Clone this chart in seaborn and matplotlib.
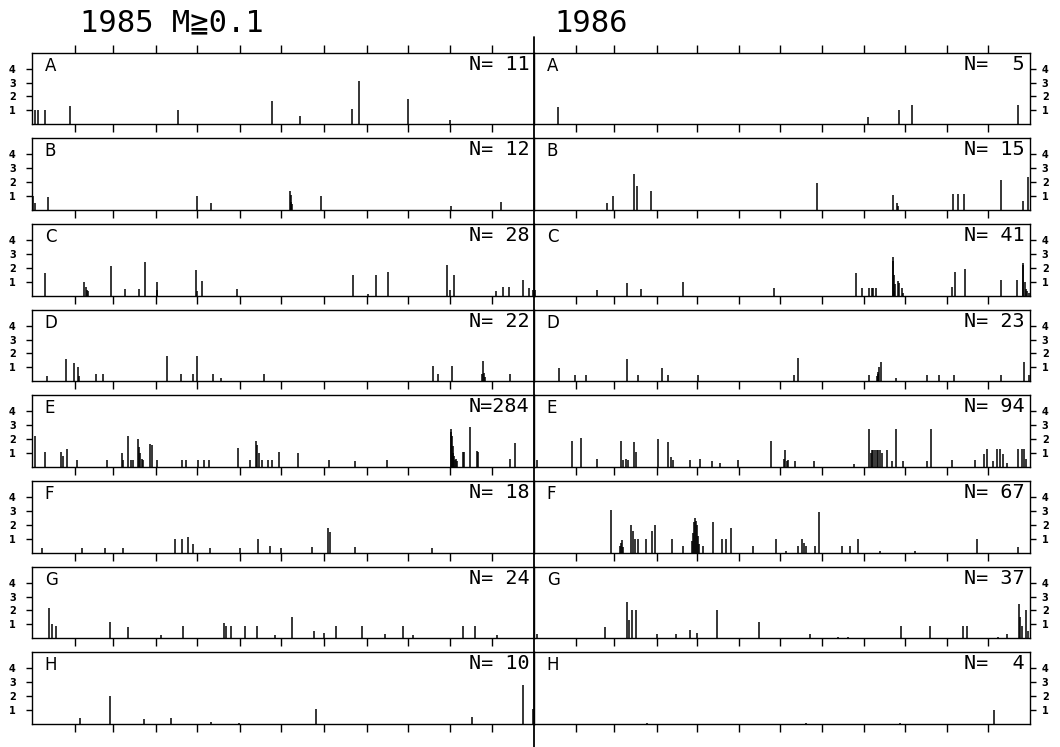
import matplotlib
matplotlib.use("Agg")
import matplotlib.pyplot as plt
import matplotlib.transforms as mtransforms
from matplotlib.lines import Line2D
import seaborn as sns

# 区域名、每年事件数
rows = ["A", "B", "C", "D", "E", "F", "G", "H"]
n_1985 = [11, 12, 28, 22, 284, 18, 24, 10]
n_1986 = [5, 15, 41, 23, 94, 67, 37, 4]
# 每月1日（年内第几天）
month_starts = [31, 59, 90, 120, 151, 181, 212, 243, 273, 304, 334]

# 1985 各区 (年内日, 震级)
day_85_A = [2, 4.4, 9.2, 27.4, 106, 174, 194.7, 232.8, 237.6, 273, 303.8]
mag_85_A = [1.0, 1.0, 1.0, 1.3, 1.05, 1.7, 0.6, 1.1, 3.1, 1.8, 0.3]
day_85_B = [0.6, 1.6, 11.7, 119.5, 129.7, 187.2, 187.8, 188.4, 189.0, 210, 304.3, 340.9]
mag_85_B = [1.0, 0.5, 0.9, 1.0, 0.5, 1.35, 1.1, 0.6, 0.4, 1.0, 0.25, 0.6]
day_85_C = [9.2, 37.8, 38.8, 39.5, 40.3, 57, 67.4, 77.6, 82, 90.5, 91, 118.8, 119.5, 123.2,
            149.1, 233.5, 243.9, 249.7, 258.9, 301.8, 303.8, 306.9, 337, 342.6, 346.7, 357.1,
            360.8, 364.4]
mag_85_C = [1.6, 1.0, 0.6, 0.4, 0.3, 2.1, 0.5, 0.5, 2.45, 1.0, 0.4, 1.85, 0.3, 1.05,
            0.5, 1.45, 0.15, 1.45, 1.7, 2.2, 0.4, 1.45, 0.3, 0.6, 0.6, 1.1,
            0.55, 0.4]
day_85_D = [10.9, 24.3, 30.6, 33.5, 34.2, 46.3, 51.7, 97.7, 108.1, 117.1, 120, 131.2, 137.2,
            168.5, 291.2, 295.3, 305, 326.8, 327.5, 328.3, 329, 347.4]
mag_85_D = [0.4, 1.6, 1.3, 1.0, 0.4, 0.5, 0.5, 1.8, 0.5, 0.5, 1.85, 0.5, 0.2,
            0.5, 1.1, 0.55, 1.1, 0.5, 1.45, 0.6, 0.3, 0.55]
day_85_E = [2.0, 9.2, 20.9, 22.6, 25, 32.7, 54.5, 65, 66.2, 69.8, 71.8, 73.5, 77.1, 77.8,
            78.5, 79.6, 80.7, 85.6, 86.8, 90.5, 108.6, 111.8, 120.3, 125.1, 128.7, 149.4,
            158.3, 162.7, 163.6, 164.6, 166.8, 171.6, 174.1, 179.6, 193, 216, 234.7, 258.2,
            304.3, 304.7, 305.2, 305.7, 306.2, 306.7, 307.4, 308.1, 309.1, 313, 314, 318.3,
            323.2, 323.9, 347.4, 351]
mag_85_E = [2.2, 1.05, 1.05, 0.77, 1.3, 0.5, 0.5, 1.0, 0.5, 2.25, 0.5, 0.5, 2.0, 1.4,
            1.0, 0.6, 0.5, 1.65, 1.6, 0.5, 0.5, 0.5, 0.5, 0.5, 0.5, 1.37,
            0.5, 1.9, 1.6, 1.0, 0.5, 0.5, 0.5, 1.08, 1.0, 0.5, 0.45, 0.5,
            2.7, 2.5, 2.2, 1.5, 1.0, 0.8, 0.5, 0.6, 0.4, 1.1, 1.1, 2.85,
            1.17, 1.1, 0.6, 1.73]
day_85_F = [7.1, 36.2, 52.9, 66, 103.8, 108.9, 113.2, 116.9, 129.2, 151.1, 164.1, 172.9,
            180.9, 203.4, 215.1, 216.5, 234.7, 290.7]
mag_85_F = [0.3, 0.3, 0.3, 0.3, 1.0, 1.0, 1.1, 0.6, 0.3, 0.3, 1.0, 0.5,
            0.3, 0.4, 1.8, 1.5, 0.4, 0.3]
day_85_G = [12.4, 14.1, 17.2, 56.5, 69.8, 93.6, 109.4, 139.4, 140.7, 144.3, 154.7, 163.2,
            176.5, 188.7, 204.9, 212.1, 220.9, 239.8, 256.5, 269.4, 276.9, 313.5, 322, 338]
mag_85_G = [2.2, 1.0, 0.9, 1.2, 0.8, 0.25, 0.9, 1.1, 0.9, 0.9, 0.9, 0.9,
            0.2, 1.5, 0.5, 0.4, 0.9, 0.9, 0.3, 0.9, 0.2, 0.9, 0.9, 0.2]
day_85_H = [34.7, 56.5, 81.2, 100.7, 129.7, 150.3, 206.3, 319.6, 356.7, 364.3]
mag_85_H = [0.45, 2.0, 0.35, 0.45, 0.15, 0.1, 1.1, 0.5, 2.8, 1.05]

# 1986 各区
day_86_A = [17.7, 245.5, 268.5, 278.4, 356.4]
mag_86_A = [1.27, 0.55, 1.03, 1.37, 1.4]
day_86_B = [53.8, 57.7, 73.4, 75.9, 85.7, 208.4, 264.4, 266.8, 267.6, 308.6, 312.3, 316.4,
            343.4, 360.1, 363.3]
mag_86_B = [0.5, 1.03, 2.6, 1.7, 1.37, 1.97, 1.08, 0.5, 0.3, 1.13, 1.13, 1.13,
            2.16, 0.65, 2.35]
day_86_C = [0.5, 45.9, 68.5, 78.3, 109.7, 176.7, 236.6, 241, 246.5, 248.4, 249.7, 251.4,
            263.9, 264.4, 264.9, 265.1, 265.6, 267.6, 268.5, 271, 271.7, 307.3, 309.8, 317.1,
            343.4, 355.7, 359.6, 360.1, 361.1, 362.1, 363, 364]
mag_86_C = [0.4, 0.43, 0.94, 0.48, 1.0, 0.53, 1.65, 0.53, 0.53, 0.53, 0.53, 0.53,
            2.8, 2.5, 1.5, 0.3, 0.8, 1.08, 0.9, 0.55, 0.2, 0.6, 1.68, 1.92,
            1.13, 1.13, 2.33, 2.2, 1.0, 0.5, 0.3, 0.2]
day_86_D = [18.4, 30, 37.8, 68, 76.6, 94.3, 98.2, 120.3, 191.5, 193.9, 246.7, 252.1, 252.8,
            253.3, 253.8, 255.1, 266.1, 288.9, 298.2, 309.3, 343.4, 360.8, 364.5]
mag_86_D = [0.96, 0.43, 0.43, 1.58, 0.43, 0.98, 0.43, 0.43, 0.48, 1.68, 0.43, 0.4, 0.7,
            0.5, 1.0, 1.4, 0.2, 0.43, 0.43, 0.43, 0.43, 1.4, 0.43]
day_86_E = [2.2, 28, 34.2, 46.4, 63.6, 65.5, 67.3, 69.2, 73.4, 74.9, 90.9, 98.7, 100.7,
            102.4, 114.7, 122.1, 130.9, 136.8, 150.1, 174.4, 183.9, 184.6, 185.8, 187, 192,
            206.2, 235.4, 246.7, 247.7, 248.4, 249.6, 250.9, 252.1, 253.3, 254.6, 255.8,
            259.5, 263.2, 266.1, 271.7, 289, 292.1, 307.4, 324.5, 331.2, 333.1, 338, 341,
            342.9, 344.9, 347.9, 356.4, 358.9, 360.6, 361.9]
mag_86_E = [0.5, 1.9, 2.1, 0.6, 1.9, 0.5, 0.6, 0.5, 1.8, 1.1, 2.0, 1.8, 0.7,
            0.5, 0.5, 0.6, 0.4, 0.3, 0.5, 1.9, 0.6, 1.2, 0.4, 0.5, 0.4,
            0.43, 0.2, 2.7, 1.0, 1.25, 1.25, 1.25, 1.25, 1.25, 1.25, 1.0,
            1.25, 0.4, 2.7, 0.43, 0.43, 2.7, 0.48, 0.48, 0.96, 1.32, 0.43, 1.32,
            1.32, 0.96, 0.25, 1.32, 1.32, 1.32, 0.6]
day_86_F = [56.5, 63.1, 63.8, 64.6, 65.6, 71, 72.5, 74.2, 76.6, 82.3, 86.4, 88.9, 101.2,
            109.7, 115.9, 116.6, 117.4, 118.1, 118.9, 119.6, 120.3, 121.1, 124, 131.8, 138,
            141, 144.6, 161.3, 178, 185.3, 194.4, 197.4, 198.6, 199.8, 206.7, 209.9, 226.4,
            232.5, 238.6, 254.6, 280.3, 326, 356.2]
mag_86_F = [3.07, 0.5, 0.7, 0.9, 0.4, 2.0, 1.55, 0.95, 0.95, 0.95, 1.55, 1.95, 0.95,
            0.5, 0.8, 1.4, 2.2, 2.5, 2.3, 2.0, 1.2, 0.6, 0.5, 2.2, 1.0,
            1.0, 1.8, 0.5, 1.0, 0.15, 0.5, 1.0, 0.7, 0.5, 0.5, 2.95, 0.5,
            0.5, 1.0, 0.15, 0.1, 1.0, 0.4]
day_86_G = [1.8, 52.1, 68.3, 69.8, 72, 74.9, 90.4, 104.4, 114.7, 119.9, 134.5, 165.4, 203,
            223.6, 231, 269.8, 291.4, 315.9, 318.4, 341.7, 347.9, 356.9, 358, 359.4, 362.1,
            363.5]
mag_86_G = [0.3, 0.8, 2.6, 1.3, 2.0, 2.0, 0.3, 0.3, 0.6, 0.4, 2.0, 1.2, 0.3,
            0.1, 0.1, 0.9, 0.9, 0.9, 0.9, 0.1, 0.3, 2.5, 1.5, 0.9, 2.0,
            0.5]
day_86_H = [82.8, 200, 269.3, 338.5]
mag_86_H = [0.1, 0.1, 0.1, 1.0]

data_1985 = {"A": (day_85_A, mag_85_A), "B": (day_85_B, mag_85_B), "C": (day_85_C, mag_85_C),
             "D": (day_85_D, mag_85_D), "E": (day_85_E, mag_85_E), "F": (day_85_F, mag_85_F),
             "G": (day_85_G, mag_85_G), "H": (day_85_H, mag_85_H)}
data_1986 = {"A": (day_86_A, mag_86_A), "B": (day_86_B, mag_86_B), "C": (day_86_C, mag_86_C),
             "D": (day_86_D, mag_86_D), "E": (day_86_E, mag_86_E), "F": (day_86_F, mag_86_F),
             "G": (day_86_G, mag_86_G), "H": (day_86_H, mag_86_H)}

sns.set_theme(style="ticks", rc={"axes.edgecolor": "black", "axes.linewidth": 1.0,
                                 "xtick.color": "black", "ytick.color": "black",
                                 "text.color": "black", "axes.labelcolor": "black"})

W, H = 1060, 747
fig = plt.figure(figsize=(W / 100, H / 100), dpi=100)
fig.patch.set_facecolor("white")


def px_rect(x0, y0, w, h):
    return [x0 / W, 1 - (y0 + h) / H, w / W, h / H]


cols = [(32.3, 502.0, data_1985, n_1985), (534.3, 495.7, data_1986, n_1986)]
for i, r in enumerate(rows):
    top = 52.7 + i * 85.66
    for c, (x0, w, data, ns) in enumerate(cols):
        ax = fig.add_axes(px_rect(x0, top, w, 71.6))
        days, mags = data[r]
        ax.vlines(days, 0, mags, color="black", lw=1.1)
        ax.set_xlim(0, 365)
        ax.set_ylim(0, 5.15)
        ax.set_xticks(month_starts)
        ax.set_xticklabels([])
        ax.set_yticks([1, 2, 3, 4])
        ax.tick_params(axis="x", direction="out", length=5.5, width=1.0,
                       bottom=True, top=(i == 0))
        if c == 0:
            ax.tick_params(axis="y", direction="out", length=4, width=1.0, pad=8,
                           left=True, right=False, labelleft=True, labelright=False)
        else:
            ax.tick_params(axis="y", direction="out", length=4, width=1.0, pad=4.5,
                           left=False, right=True, labelleft=False, labelright=True)
        for lab in ax.get_yticklabels():
            lab.set_fontsize(7)
            lab.set_fontweight("bold")
            lab.set_family("DejaVu Sans")
            lab.set_color("black")
        for sp in ax.spines.values():
            sp.set_visible(True)
            sp.set_linewidth(1.0)
        # 区域字母
        off = mtransforms.ScaledTranslation(12.5 / 100, -4 / 100, fig.dpi_scale_trans)
        ax.text(0, 1, r, transform=ax.transAxes + off, ha="left", va="top",
                fontsize=12, family="DejaVu Sans", color="black")
        # 事件数
        off2 = mtransforms.ScaledTranslation(-5 / 100, -2 / 100, fig.dpi_scale_trans)
        ax.text(1, 1, "N=%3d" % ns[i], transform=ax.transAxes + off2, ha="right", va="top",
                fontsize=14.5, family="DejaVu Sans Mono", color="black")

# 中间分隔竖线
fig.add_artist(Line2D([534.3 / W, 534.3 / W], [1 - 37 / H, 0], transform=fig.transFigure,
                      color="black", lw=1.3))

title_font = ["DejaVu Sans Mono", "DejaVu Sans", "Noto Sans CJK JP"]
fig.text(80 / W, 1 - 23 / H, "1985 M≧0.1", ha="left", va="center", fontsize=22,
         family=title_font, color="black")
fig.text(554 / W, 1 - 23 / H, "1986", ha="left", va="center", fontsize=22,
         family=title_font, color="black")

fig.savefig("out.png", dpi=100, facecolor="white")
plt.close("all")
